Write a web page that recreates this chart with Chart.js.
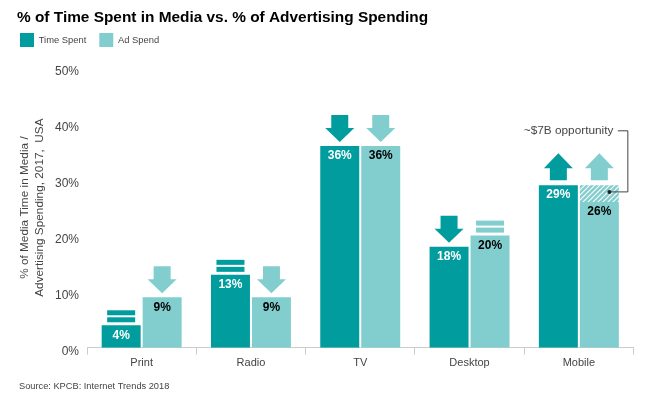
<!DOCTYPE html>
<html>
<head>
<meta charset="utf-8">
<title>% of Time Spent in Media vs. % of Advertising Spending</title>
<script src="https://cdn.jsdelivr.net/npm/chart.js@4"></script>
<style>
  html, body { margin: 0; padding: 0; background: #fff; }
  canvas { display: block; }
</style>
</head>
<body>
<canvas id="chart" width="647" height="402"></canvas>
<script>
const categories = ["Print", "Radio", "TV", "Desktop", "Mobile"];
const timeSpent = [4, 13, 36, 18, 29];
const adSpend = [9, 9, 36, 20, 26];
const opportunity = [null, null, null, null, 3];
const timeTrend = ["flat", "flat", "down", "down", "up"];
const adTrend = ["down", "down", "down", "flat", "up"];

const TEAL = "#009c9e";
const LIGHT = "#82cecf";
const FONT = "'Liberation Sans', Arial, sans-serif";
const SOURCE = "Source: KPCB: Internet Trends 2018";

// white diagonal stripes for the gap between 26% and 29%
function makeHatch() {
  const c = document.createElement("canvas");
  c.width = 5;
  c.height = 5;
  const g = c.getContext("2d");
  g.fillStyle = LIGHT;
  g.fillRect(0, 0, 5, 5);
  g.strokeStyle = "#fff";
  g.lineWidth = 1.2;
  g.beginPath();
  g.moveTo(-1, 6); g.lineTo(6, -1);
  g.moveTo(-1, 1); g.lineTo(1, -1);
  g.moveTo(4, 6); g.lineTo(6, 4);
  g.stroke();
  return g.createPattern(c, "repeat");
}

function drawTrend(ctx, kind, cx, top, color) {
  ctx.fillStyle = color;
  if (kind === "flat") {
    ctx.fillRect(cx - 14, top - 8, 28, 5);
    ctx.fillRect(cx - 14, top - 15, 28, 5);
    return;
  }
  ctx.beginPath();
  if (kind === "down") {
    const tip = top - 4;
    ctx.moveTo(cx, tip);
    ctx.lineTo(cx - 14.5, tip - 14);
    ctx.lineTo(cx - 8.5, tip - 14);
    ctx.lineTo(cx - 8.5, tip - 27);
    ctx.lineTo(cx + 8.5, tip - 27);
    ctx.lineTo(cx + 8.5, tip - 14);
    ctx.lineTo(cx + 14.5, tip - 14);
  } else {
    const base = top - 5;
    ctx.moveTo(cx, base - 27);
    ctx.lineTo(cx - 14.5, base - 12);
    ctx.lineTo(cx - 8.5, base - 12);
    ctx.lineTo(cx - 8.5, base);
    ctx.lineTo(cx + 8.5, base);
    ctx.lineTo(cx + 8.5, base - 12);
    ctx.lineTo(cx + 14.5, base - 12);
  }
  ctx.closePath();
  ctx.fill();
}

const barMarks = {
  id: "barMarks",
  afterLayout(chart) {
    // nudge the legend and source line to where the reference has them
    chart.legend.left = 7;
    chart.legend.top -= 10.5;
    const source = chart.boxes.find((b) => b.options && b.options.text === SOURCE);
    if (source) source.left += 2;
  },
  beforeDraw(chart) {
    // y tick labels sit a little below their tick in the reference
    const items = chart.scales.y.getLabelItems(chart.chartArea);
    if (!items.shifted) {
      items.forEach((item) => {
        item.options.translation = [item.options.translation[0], item.options.translation[1] + 4];
      });
      items.shifted = true;
    }
  },
  afterDatasetsDraw(chart) {
    const ctx = chart.ctx;
    const y = chart.scales.y;
    ctx.save();
    ctx.textAlign = "center";
    ctx.textBaseline = "middle";
    ctx.font = "bold 12px " + FONT;

    categories.forEach((_, i) => {
      const timeBar = chart.getDatasetMeta(0).data[i];
      const adBar = chart.getDatasetMeta(1).data[i];

      drawTrend(ctx, timeTrend[i], timeBar.x, y.getPixelForValue(timeSpent[i]), TEAL);
      drawTrend(ctx, adTrend[i], adBar.x, y.getPixelForValue(adSpend[i] + (opportunity[i] || 0)), LIGHT);

      ctx.fillStyle = "#fff";
      ctx.fillText(timeSpent[i] + "%", timeBar.x, y.getPixelForValue(timeSpent[i]) + 10);
      ctx.fillStyle = "#000";
      ctx.fillText(adSpend[i] + "%", adBar.x, y.getPixelForValue(adSpend[i]) + 10);
    });

    // callout for the mobile gap
    const mobile = chart.getDatasetMeta(1).data[4];
    const dotX = mobile.x + 10;
    const dotY = y.getPixelForValue(27.8);
    const textY = y.getPixelForValue(38.7);
    const elbowX = mobile.x + 28.5;
    ctx.strokeStyle = "#444";
    ctx.lineWidth = 1;
    ctx.beginPath();
    ctx.moveTo(elbowX - 10, textY);
    ctx.lineTo(elbowX, textY);
    ctx.lineTo(elbowX, dotY);
    ctx.lineTo(dotX, dotY);
    ctx.stroke();
    ctx.fillStyle = "#222";
    ctx.beginPath();
    ctx.arc(dotX, dotY, 2, 0, Math.PI * 2);
    ctx.fill();
    ctx.fillStyle = "#444";
    ctx.textAlign = "right";
    ctx.font = "11.8px " + FONT;
    ctx.fillText("~$7B opportunity", elbowX - 14.5, textY);
    ctx.restore();
  },
};

new Chart(document.getElementById("chart"), {
  type: "bar",
  data: {
    labels: categories,
    datasets: [
      { label: "Time Spent", data: timeSpent, backgroundColor: TEAL, stack: "time" },
      { label: "Ad Spend", data: adSpend, backgroundColor: LIGHT, stack: "ad" },
      { label: "Opportunity", data: opportunity, backgroundColor: makeHatch(), stack: "ad" },
    ],
  },
  options: {
    responsive: false,
    animation: false,
    categoryPercentage: 0.75,
    barPercentage: 0.951,
    layout: { padding: { left: 17, right: 13.5, top: 9, bottom: 10 } },
    scales: {
      x: {
        stacked: true,
        border: { color: "#ccc" },
        grid: { drawOnChartArea: false, color: "#ccc", tickLength: 7 },
        ticks: { color: "#444", font: { family: FONT, size: 11 }, padding: 2 },
      },
      y: {
        stacked: true,
        min: 0,
        max: 50,
        afterFit(scale) { scale.width = 70; },
        border: { display: false },
        grid: { display: false },
        ticks: {
          stepSize: 10,
          color: "#444",
          padding: 0,
          font: { family: FONT, size: 12 },
          callback: (v) => v + "%",
        },
        title: {
          display: true,
          text: ["% of Media Time in Media /", "Advertising Spending, 2017,  USA"],
          color: "#444",
          font: { family: FONT, size: 11.8, lineHeight: 1.27 },
          padding: 0,
        },
      },
    },
    plugins: {
      tooltip: { enabled: false },
      title: {
        display: true,
        text: "% of Time Spent in Media vs. % of Advertising Spending",
        align: "start",
        color: "#000",
        font: { family: FONT, size: 15.4, weight: "bold" },
        padding: { top: 0, bottom: 3 },
      },
      subtitle: {
        display: true,
        position: "bottom",
        text: SOURCE,
        align: "start",
        color: "#444",
        font: { family: FONT, size: 9.25 },
        padding: { top: 9, bottom: 0 },
      },
      legend: {
        align: "start",
        labels: {
          boxWidth: 14,
          boxHeight: 14,
          padding: 13,
          color: "#444",
          font: { family: FONT, size: 9.4 },
          filter: (item) => item.text !== "Opportunity",
        },
      },
    },
  },
  plugins: [barMarks],
});
</script>
</body>
</html>
